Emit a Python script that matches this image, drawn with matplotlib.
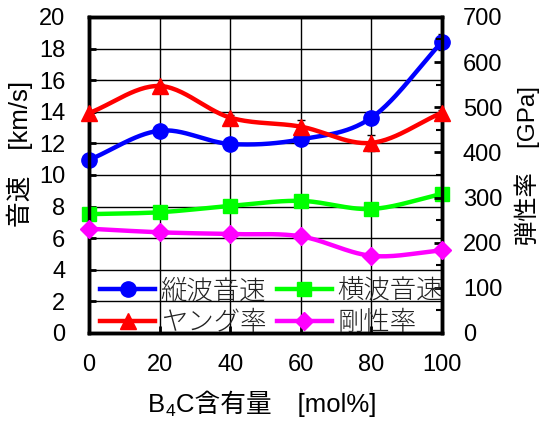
import numpy as np
import matplotlib
matplotlib.use('Agg')
import matplotlib.pyplot as plt
from matplotlib.ticker import MultipleLocator

plt.rcParams['font.family'] = ['Liberation Sans', 'DejaVu Sans', 'Noto Sans CJK JP']

# data
x = [0, 20, 40, 60, 80, 100]
v_long = [10.95, 12.8, 11.96, 12.25, 13.62, 18.42]      # km/s
v_trans = [7.52, 7.64, 8.04, 8.36, 7.85, 8.8]           # km/s
young = [487, 547, 477, 457, 421, 488]                  # GPa
shear = [231, 223, 219, 214, 171, 183]                  # GPa
v_long_err = [0.1, 0.1, 0.1, 0.1, 0.3, 0.5]
young_err = [5, 5, 5, 14, 18, 5]


def smooth(xs, ys, n=30):
    # Catmull-Rom style smoothing like Excel's smoothed lines
    xs = np.asarray(xs, float)
    ys = np.asarray(ys, float)
    px = np.concatenate([[2 * xs[0] - xs[1]], xs, [2 * xs[-1] - xs[-2]]])
    py = np.concatenate([[2 * ys[0] - ys[1]], ys, [2 * ys[-1] - ys[-2]]])
    outx, outy = [], []
    t = np.linspace(0, 1, n)
    for i in range(1, len(px) - 2):
        p0, p1, p2, p3 = px[i - 1:i + 3]
        q0, q1, q2, q3 = py[i - 1:i + 3]
        b1x, b1y = p1 + (p2 - p0) / 6, q1 + (q2 - q0) / 6
        b2x, b2y = p2 - (p3 - p1) / 6, q2 - (q3 - q1) / 6
        bx = (1 - t) ** 3 * p1 + 3 * (1 - t) ** 2 * t * b1x + 3 * (1 - t) * t ** 2 * b2x + t ** 3 * p2
        by = (1 - t) ** 3 * q1 + 3 * (1 - t) ** 2 * t * b1y + 3 * (1 - t) * t ** 2 * b2y + t ** 3 * q2
        outx.extend(bx)
        outy.extend(by)
    return outx, outy


fig = plt.figure(figsize=(5.41, 4.23), dpi=100)
ax = fig.add_axes([0.1645, 0.2128, 0.6525, 0.7472])
ax2 = ax.twinx()

lw = 3.2
ms = 11
fs = 17
fs_lab = 18.5
fs_leg = 19

ax.set_xlim(0, 100)
ax.set_ylim(0, 20)
ax2.set_ylim(0, 700)

ax.errorbar(x, v_long, yerr=v_long_err, fmt='none', ecolor='black', capsize=3, elinewidth=1.5, zorder=2)
ax2.errorbar(x, young, yerr=young_err, fmt='none', ecolor='black', capsize=3, elinewidth=1.5, zorder=2)

sx, sy = smooth(x, v_long)
ax.plot(sx, sy, color='#0000ff', lw=lw, clip_on=False, zorder=3)
ax.plot(x, v_long, 'o', color='#0000ff', ms=ms, clip_on=False, zorder=4)
sx, sy = smooth(x, v_trans)
ax.plot(sx, sy, color='#00ff00', lw=lw, clip_on=False, zorder=3)
ax.plot(x, v_trans, 's', color='#00ff00', ms=ms - 1, clip_on=False, zorder=4)
sx, sy = smooth(x, young)
ax2.plot(sx, sy, color='#ff0000', lw=lw, clip_on=False, zorder=3)
ax2.plot(x, young, '^', color='#ff0000', ms=ms, clip_on=False, zorder=4)
sx, sy = smooth(x, shear)
ax2.plot(sx, sy, color='#ff00ff', lw=lw, clip_on=False, zorder=3)
ax2.plot(x, shear, 'D', color='#ff00ff', ms=ms - 2, clip_on=False, zorder=4)

ax.xaxis.set_major_locator(MultipleLocator(20))
ax.yaxis.set_major_locator(MultipleLocator(2))
ax2.yaxis.set_major_locator(MultipleLocator(100))
ax2.yaxis.set_minor_locator(MultipleLocator(50))
ax.grid(True, color='black', lw=1)
ax.set_axisbelow(True)

ax.tick_params(axis='x', direction='in', length=5, width=2, labelsize=fs, pad=15)
ax.tick_params(axis='y', direction='in', length=5, width=2, labelsize=fs, pad=17)
ax2.tick_params(direction='in', length=6, width=2, labelsize=fs, pad=15)
ax2.tick_params(which='minor', direction='in', length=4, width=1.5)
for a in (ax, ax2):
    for s in a.spines.values():
        s.set_linewidth(2.5)

# x label with subscript 4, built from pieces so CJK glyphs still work
t1 = fig.text(0.2736, 0.026, 'B', fontsize=fs_lab, ha='left', va='baseline')
t2 = ax.annotate('4', xy=(1, 0), xycoords=t1, xytext=(0.5, -1.5), textcoords='offset points',
                 fontsize=fs_lab * 0.68, ha='left', va='bottom', annotation_clip=False)
t3 = ax.annotate('C含有量　[mol%]', xy=(1, 0), xycoords=(t2, t1), xytext=(0.5, 0),
                 textcoords='offset points', fontsize=fs_lab, ha='left', va='bottom',
                 annotation_clip=False)

ax.set_ylabel('音速　[km/s]', fontsize=fs_lab)
ax.yaxis.set_label_coords(-0.159, 0.566)
ax2.set_ylabel('弾性率　[GPa]', fontsize=17.5, rotation=90)
ax2.yaxis.set_label_coords(1.205, 0.53)

# legend handles
h = [
    ax.plot([], [], '-o', color='#0000ff', lw=lw, ms=ms)[0],
    ax.plot([], [], '-s', color='#00ff00', lw=lw, ms=ms - 1)[0],
    ax.plot([], [], '-^', color='#ff0000', lw=lw, ms=ms)[0],
    ax.plot([], [], '-D', color='#ff00ff', lw=lw, ms=ms - 2)[0],
]
labels = ['縦波音速', 'ヤング率', '横波音速', '剛性率']
leg = ax2.legend([h[0], h[2], h[1], h[3]], labels, ncol=2, frameon=False,
                 loc='lower left', bbox_to_anchor=(-0.014, -0.06),
                 handlelength=2.1, handletextpad=0.2, columnspacing=0.4,
                 labelspacing=0.15, borderaxespad=0.2,
                 prop={'family': ['Noto Sans CJK JP'], 'size': fs_leg, 'weight': 'light'})
for t in leg.get_texts():
    t.set_color('#222222')

fig.savefig('out.png', dpi=100)
